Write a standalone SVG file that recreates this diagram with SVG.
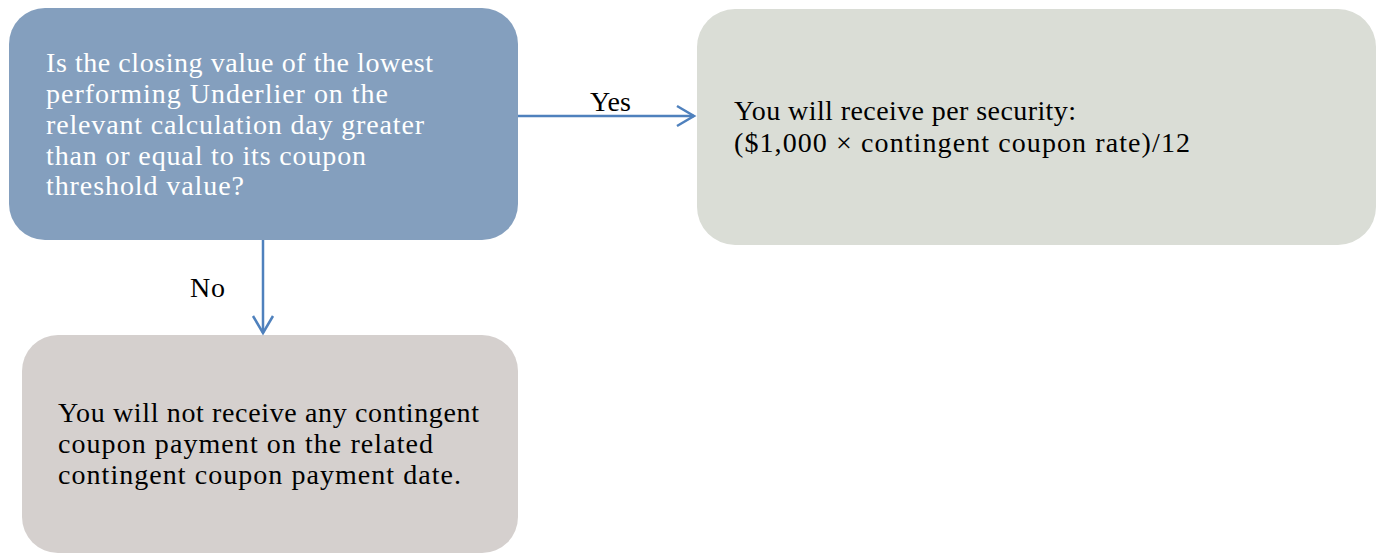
<svg xmlns="http://www.w3.org/2000/svg" width="1382" height="559" viewBox="0 0 1382 559">
<style>
.t{font-family:"Liberation Serif","Times New Roman",serif;font-size:28px}
.w{fill:#FFFFFF}
.k{fill:#000000}
.c{fill:none;stroke:#4F81BD;stroke-width:2.5}
</style>
<defs>
<marker id="arr" markerUnits="userSpaceOnUse" markerWidth="24" markerHeight="24" viewBox="-20 -12 24 24" refX="0" refY="0" orient="auto">
<path d="M-17,-10 L0,0 L-17,10" fill="none" stroke="#4F81BD" stroke-width="2.5"/>
</marker>
</defs>
<rect width="1382" height="559" fill="#FFFFFF"/>
<g id="question">
<rect x="9" y="8" width="509" height="232" rx="36" ry="36" fill="#849FBE"/>
<text class="t w" x="46" y="72" textLength="387">Is the closing value of the lowest</text>
<text class="t w" x="46" y="103" textLength="342">performing Underlier on the</text>
<text class="t w" x="46" y="134" textLength="378">relevant calculation day greater</text>
<text class="t w" x="46" y="165" textLength="320">than or equal to its coupon</text>
<text class="t w" x="46" y="195" textLength="198">threshold value?</text>
</g>
<g id="yes-box">
<rect x="697" y="9" width="679" height="236" rx="38" ry="38" fill="#DADDD6"/>
<text class="t k" x="734" y="120" textLength="342">You will receive per security:</text>
<text class="t k" x="734" y="152" textLength="456">($1,000 × contingent coupon rate)/12</text>
</g>
<g id="no-box">
<rect x="22" y="335" width="496" height="218" rx="36" ry="36" fill="#D5D0CE"/>
<text class="t k" x="58" y="422" textLength="421">You will not receive any contingent</text>
<text class="t k" x="58" y="453" textLength="375">coupon payment on the related</text>
<text class="t k" x="58" y="484" textLength="403">contingent coupon payment date.</text>
</g>
<g id="connectors">
<path class="c" d="M518,116 L694,116" marker-end="url(#arr)"/>
<path class="c" d="M263,240 L263,333" marker-end="url(#arr)"/>
<text class="t k" x="590" y="111" textLength="41">Yes</text>
<text class="t k" x="190" y="297" textLength="35">No</text>
</g>
</svg>
